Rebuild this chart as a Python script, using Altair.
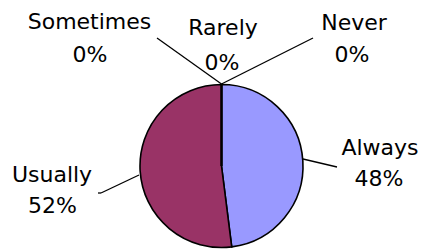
import altair as alt
import pandas as pd

categories = ["Always", "Usually", "Sometimes", "Rarely", "Never"]
values = [48, 52, 0, 0, 0]
colors = ["#9999FF", "#993366", "#FFFFCC", "#CCFFFF", "#660066"]

# pie geometry (chart pixel coordinates)
CX, CY, R = 213.5, 158, 81.5

pie_df = pd.DataFrame({"category": categories, "value": values,
                       "order": list(range(len(categories)))})

# annotation layout: label anchors (centre x, baseline y)
label_x = [372, 44, 81.5, 215, 346]
label_y = [147, 174, 21, 27, 22]
pct_x = [371, 44.5, 82, 214, 344]
pct_y = [178, 205, 54, 62, 54]
lab_df = pd.DataFrame({"category": categories,
                       "pct": [f"{v}%" for v in values],
                       "lx": label_x, "ly": label_y, "px": pct_x, "py": pct_y})

# leader lines: start (x, y) -> end (x2, y2)
lead_df = pd.DataFrame({
    "x": [295, 131, CX, CX],
    "y": [151, 167, 76, 76],
    "x2": [329, 93, 149, 305],
    "y2": [159, 185, 30, 30],
})
lead2_df = pd.DataFrame({"x": [93], "y": [185], "x2": [90], "y2": [185]})

pie = alt.Chart(pie_df).mark_arc(
    outerRadius=R, stroke="black", strokeWidth=1.6
).encode(
    theta=alt.Theta("value:Q", stack=True),
    color=alt.Color("category:N", scale=alt.Scale(domain=categories, range=colors), legend=None),
    order=alt.Order("order:Q"),
    x=alt.value(CX), y=alt.value(CY),
)

def rules(df):
    return alt.Chart(df).mark_rule(color="black", strokeWidth=1.3).encode(
        x=alt.X("x:Q", scale=None), y=alt.Y("y:Q", scale=None),
        x2="x2:Q", y2="y2:Q",
    )

txt_kw = dict(font="DejaVu Sans", fontSize=22, color="black", align="center", baseline="alphabetic")
labels = alt.Chart(lab_df).mark_text(**txt_kw).encode(
    x=alt.X("lx:Q", scale=None), y=alt.Y("ly:Q", scale=None), text="category:N")
pcts = alt.Chart(lab_df).mark_text(**txt_kw).encode(
    x=alt.X("px:Q", scale=None), y=alt.Y("py:Q", scale=None), text="pct:N")

chart = alt.layer(rules(lead_df), rules(lead2_df), pie, labels, pcts).properties(
    width=411, height=241, padding=0,
    autosize=alt.AutoSizeParams(type="none"),
).configure_view(stroke=None)

chart.save("out.html", embed_options={"renderer": "svg", "actions": False})
